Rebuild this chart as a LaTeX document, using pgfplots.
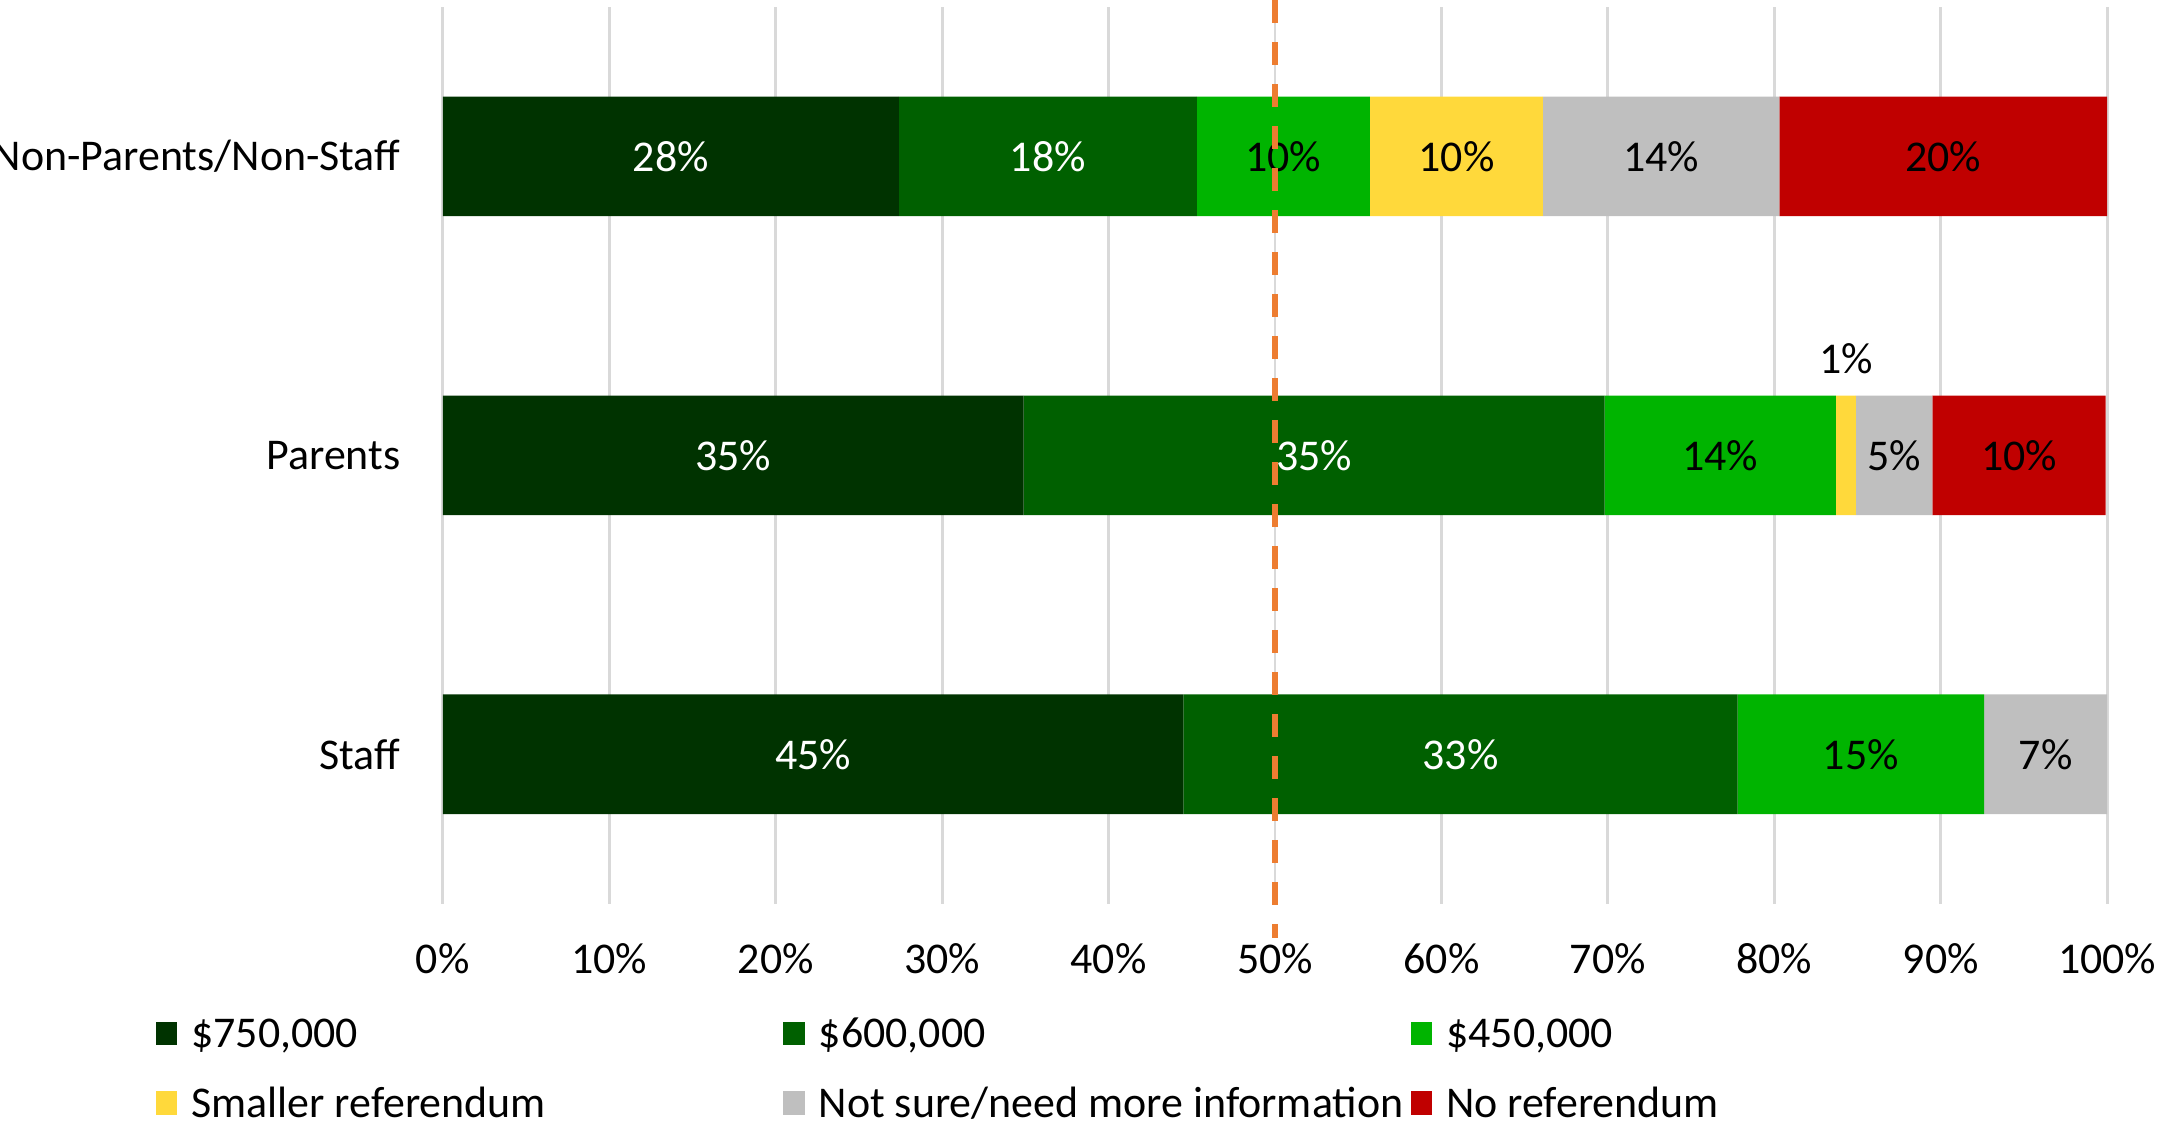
\documentclass[border=0pt]{standalone}
\usepackage{fontspec}
\setmainfont{Carlito}
\usepackage{pgfplots}
\usepackage{pgfplotstable}
\pgfplotsset{compat=1.18}

\definecolor{c750}{HTML}{003300}
\definecolor{c600}{HTML}{006000}
\definecolor{c450}{HTML}{00B400}
\definecolor{csmall}{HTML}{FFD93B}
\definecolor{cnotsure}{HTML}{BFBFBF}
\definecolor{cnoref}{HTML}{C00000}
\definecolor{cdash}{HTML}{ED7D31}

% y: 0 = Staff, 1 = Parents, 2 = Non-Parents/Non-Staff
% v = segment length (%), lab = label, dy = label shift (pt)
\pgfplotstableread{
y v lab dy
0 44.5 45\% 0
1 34.9 35\% 0
2 27.4 28\% 0
}\tabA
\pgfplotstableread{
y v lab dy
0 33.3 33\% 0
1 34.9 35\% 0
2 17.9 18\% 0
}\tabB
\pgfplotstableread{
y v lab dy
0 14.8 15\% 0
1 13.9 14\% 0
2 10.4 10\% 0
}\tabC
\pgfplotstableread{
y v lab dy
0 0 {} 0
1 1.2 1\% 20.3
2 10.4 10\% 0
}\tabD
\pgfplotstableread{
y v lab dy
0 7.4 7\% 0
1 4.6 5\% 0
2 14.2 14\% 0
}\tabE
\pgfplotstableread{
y v lab dy
0 0 {} 0
1 10.4 10\% 0
2 19.7 20\% 0
}\tabF

\pgfplotsset{
  seg/.style={fill=#1, draw=none,
    legend image code/.code={\fill[#1] (0pt,-2pt) rectangle (4.6pt,3pt);}},
}
\newcommand{\legtxt}[1]{\makebox[124pt][l]{#1}}

\begin{document}
\begin{tikzpicture}[font=\fontsize{9.2}{11}\selectfont]
\begin{axis}[
  name=ax,
  xbar stacked,
  x=3.488pt, y=62.65pt,
  xmin=0, xmax=100, ymin=-0.5, ymax=2.5,
  bar width=0.4,
  ytick={0,1,2},
  yticklabels={Staff,Parents,Non-Parents/Non-Staff},
  xtick={0,10,...,100},
  xticklabel={\pgfmathprintnumber{\tick}\%},
  /pgf/number format/assume math mode=true,
  xticklabel style={anchor=center, yshift=-11.6pt},
  yticklabel style={inner sep=0pt, xshift=-8.7pt},
  xmajorgrids,
  grid style={draw=black!15, line width=0.6pt},
  axis line style={draw=none},
  major tick length=0pt,
  clip=false,
  point meta=explicit symbolic,
  nodes near coords,
  visualization depends on={\thisrow{dy} \as \dy},
  every node near coord/.append style={anchor=center, inner sep=0pt,
    yshift={\dy*1pt}},
  legend columns=3,
  legend cell align=left,
  legend style={at={(0,0)}, anchor=north west, xshift=-60.4pt, yshift=-23pt,
    draw=none, fill=none, inner sep=0pt, row sep=5.5pt,
    nodes={inner sep=0pt, text height=7pt, text depth=2pt},
    /tikz/every odd column/.append style={column sep=2.9pt},
    /tikz/every even column/.append style={column sep=0pt}},
]
\addplot[seg=c750, every node near coord/.append style={text=white}] table[x=v, y=y, meta=lab] {\tabA};
\addlegendentry{\legtxt{\$750,000}}
\addplot[seg=c600, every node near coord/.append style={text=white}] table[x=v, y=y, meta=lab] {\tabB};
\addlegendentry{\legtxt{\$600,000}}
\addplot[seg=c450, every node near coord/.append style={text=black}] table[x=v, y=y, meta=lab] {\tabC};
\addlegendentry{\legtxt{\$450,000}}
\addplot[seg=csmall, every node near coord/.append style={text=black}] table[x=v, y=y, meta=lab] {\tabD};
\addlegendentry{\legtxt{Smaller referendum}}
\addplot[seg=cnotsure, every node near coord/.append style={text=black}] table[x=v, y=y, meta=lab] {\tabE};
\addlegendentry{\legtxt{Not sure/need more information}}
\addplot[seg=cnoref, every node near coord/.append style={text=black}] table[x=v, y=y, meta=lab] {\tabF};
\addlegendentry{\legtxt{No referendum}}
\end{axis}
% reference line at 50%, in an identical unstacked axis on top
\begin{axis}[
  x=3.488pt, y=62.65pt,
  xmin=0, xmax=100, ymin=-0.5, ymax=2.5,
  hide axis, clip=false,
]
\addplot[cdash, line width=1.1pt, dash pattern=on 4.8pt off 4pt] coordinates {(50,2.523) (50,-0.615)};
\end{axis}
\pgfresetboundingbox
\path ([xshift=-92.8pt,yshift=-46.1pt]ax.south west) rectangle ([xshift=11.9pt,yshift=1.45pt]ax.north east);
\end{tikzpicture}
\end{document}
